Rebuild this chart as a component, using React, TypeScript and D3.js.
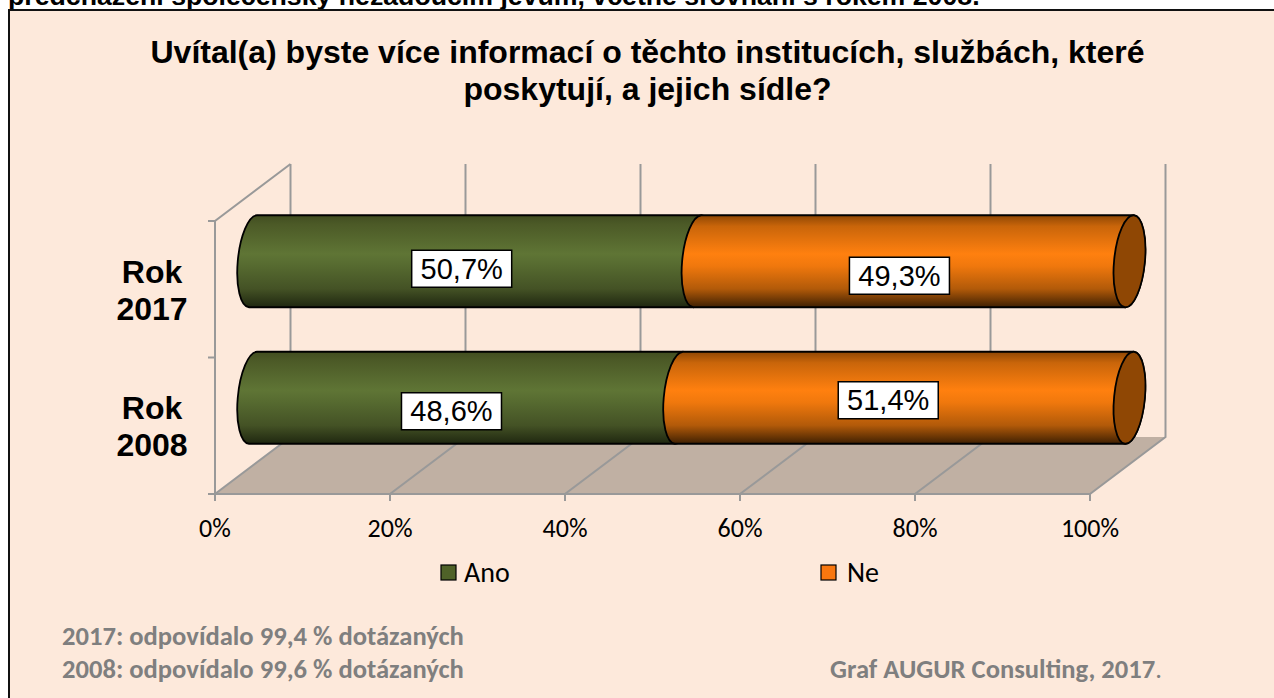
import React from "react";
import * as d3 from "d3";

const categories = ["Rok 2017", "Rok 2008"];
const seriesNames = ["Ano", "Ne"];
const ano = [50.7, 48.6];
const ne = [49.3, 51.4];
const valueLabels = [["50,7%", "49,3%"], ["48,6%", "51,4%"]];
const xTicks = [0, 20, 40, 60, 80, 100];
const title = ["Uvítal(a) byste více informací o těchto institucích, službách, které", "poskytují, a jejich sídle?"];
const notes = ["2017: odpovídalo 99,4 % dotázaných", "2008: odpovídalo 99,6 % dotázaných"];

const ARIAL = "'Liberation Sans', Arial, sans-serif";
const CAL = "Carlito, Lato, sans-serif";
const AXIS = "#999999";

const xFront = d3.scaleLinear().domain([0, 100]).range([215, 1090]);
const depth = { dx: 75.5, dy: -57 };
const yFloor = 494;
const yTopFront = 221;
const xBar = d3.scaleLinear().domain([0, 100]).range([253, 1129.5]);
const yBand = d3.scaleBand<string>().domain(categories).range([yTopFront, yFloor]);
const BAR_CENTER_SHIFT = -28;
const HALF = 46;
const SKEW = 4;
const RX = 15.4, RY = 46.2, ROT = 5.6;
const labelOffsets = [[[-13.5, 7.5], [-14, 14.5]], [[-14.5, 13.5], [-16, 2.5]]];
const legendTextGap = [23, 26];

const barCenter = (c: string) => yBand(c)! + yBand.bandwidth() / 2 + BAR_CENTER_SHIFT;

const cylinder = (x0: number, x1: number, cy: number) => {
  const arc = `A${RX} ${RY} ${ROT} 0 1`;
  return `M${x0 + SKEW} ${cy - HALF}L${x1 + SKEW} ${cy - HALF}${arc} ${x1 - SKEW} ${cy + HALF}L${x0 - SKEW} ${cy + HALF}${arc} ${x0 + SKEW} ${cy - HALF}Z`;
};

const Grad = ({ id, stops }: { id: string; stops: [number, string][] }) => (
  <linearGradient id={id} x1="0" y1="0" x2="0" y2="1">
    {stops.map(([o, c]) => <stop key={o} offset={o} stopColor={c} />)}
  </linearGradient>
);

export default function App() {
  return (
    <svg width={1274} height={698} style={{ position: "absolute", left: 0, top: 0, background: "#fff" }}>
      <defs>
        <Grad id="g-ano" stops={[[0, "#414d20"], [0.1, "#4c5a27"], [0.42, "#5f7535"], [0.55, "#566a30"], [0.8, "#445225"], [1, "#1f2710"]]} />
        <Grad id="g-ne" stops={[[0, "#8f4704"], [0.12, "#c9650a"], [0.42, "#ff800f"], [0.55, "#f0780d"], [0.8, "#b25a09"], [1, "#3f2002"]]} />
      </defs>
      <text x={8} y={5} fontFamily={ARIAL} fontWeight={700} fontSize={26.7} fill="#000">předcházení společensky nežádoucím jevům, včetně srovnání s rokem 2008.</text>
      <rect x={9} y={10} width={1300} height={720} fill="#FDE9DB" stroke="#111" strokeWidth={2} />

      {title.map((t, i) => (
        <text key={t} x={647.5} y={63 + i * 37} textAnchor="middle" fontFamily={ARIAL} fontWeight={700} fontSize={32} fill="#000">{t}</text>
      ))}

      {/* floor */}
      <path d={`M${xFront(0)} ${yFloor}L${xFront(100)} ${yFloor}L${xFront(100) + depth.dx} ${yFloor + depth.dy}L${xFront(0) + depth.dx} ${yFloor + depth.dy}Z`} fill="#C0B0A3" />
      {/* walls and grid */}
      <g stroke={AXIS} strokeWidth={2} fill="none">
        <path d={`M${xFront(0)} ${yFloor}V${yTopFront}L${xFront(0) + depth.dx} ${yTopFront + depth.dy}`} />
        {xTicks.map(t => (
          <path key={t} d={`M${xFront(t)} ${yFloor + 7}V${yFloor}L${xFront(t) + depth.dx} ${yFloor + depth.dy}V${yTopFront + depth.dy}`} />
        ))}
        <path d={`M${xFront(0)} ${yFloor}H${xFront(100)}`} />
        {[yTopFront, yBand("Rok 2008")!, yFloor].map(y => (
          <path key={y} d={`M${xFront(0) - 7} ${y}H${xFront(0)}`} />
        ))}
      </g>

      {/* bars */}
      {categories.map((c, i) => {
        const cy = barCenter(c);
        const a = xBar(ano[i]);
        const b = xBar(ano[i] + ne[i]);
        return (
          <g key={c} stroke="#000" strokeWidth={1.8}>
            <path d={cylinder(xBar(0), a, cy)} fill="url(#g-ano)" />
            <path d={cylinder(a, b, cy)} fill="url(#g-ne)" />
            <ellipse cx={0} cy={0} rx={RX} ry={RY} transform={`translate(${b},${cy}) rotate(${ROT})`} fill="#8F4704" />
          </g>
        );
      })}

      {/* data labels */}
      {categories.map((c, i) => {
        const cy = barCenter(c);
        const edges = [xBar(0), xBar(ano[i]), xBar(ano[i] + ne[i])];
        return [0, 1].map(k => {
          const lx = (edges[k] + edges[k + 1]) / 2 + labelOffsets[i][k][0];
          const ly = cy + labelOffsets[i][k][1];
          return (
            <g key={k}>
              <rect x={lx - 50} y={ly - 18.5} width={100} height={37} fill="#fff" stroke="#000" strokeWidth={1.5} />
              <text x={lx} y={ly + 10} textAnchor="middle" fontFamily={ARIAL} fontSize={29} fill="#000">{valueLabels[i][k]}</text>
            </g>
          );
        });
      })}

      {/* category labels */}
      {categories.map((c, i) => {
        const [l1, l2] = c.split(" ");
        const y0 = 283 + i * 136;
        return (
          <g key={c} fontFamily={ARIAL} fontWeight={700} fontSize={32} fill="#000" textAnchor="middle">
            <text x={152} y={y0}>{l1}</text>
            <text x={152} y={y0 + 37}>{l2}</text>
          </g>
        );
      })}

      {/* x tick labels */}
      {xTicks.map(t => (
        <text key={t} x={xFront(t)} y={537} textAnchor="middle" fontFamily={CAL} fontSize={26} fill="#000">{t}%</text>
      ))}

      {/* legend */}
      {seriesNames.map((n, i) => {
        const x = 441 + i * 380;
        return (
          <g key={n}>
            <rect x={x} y={565} width={15} height={15} fill={i === 0 ? "#4F6228" : "#F9770F"} stroke="#000" strokeWidth={1.2} />
            <text x={x + legendTextGap[i]} y={582} fontFamily={CAL} fontSize={28} fill="#000">{n}</text>
          </g>
        );
      })}

      {/* notes */}
      {notes.map((n, i) => (
        <text key={n} x={62} y={645 + i * 33} fontFamily={CAL} fontWeight={700} fontSize={26.6} fill="#7f7f7f">{n}</text>
      ))}
      <text x={1162} y={678} textAnchor="end" fontFamily={CAL} fontWeight={700} fontSize={26.6} fill="#7f7f7f">
        Graf AUGUR Consulting, 2017<tspan fontWeight={400}>.</tspan>
      </text>
    </svg>
  );
}
